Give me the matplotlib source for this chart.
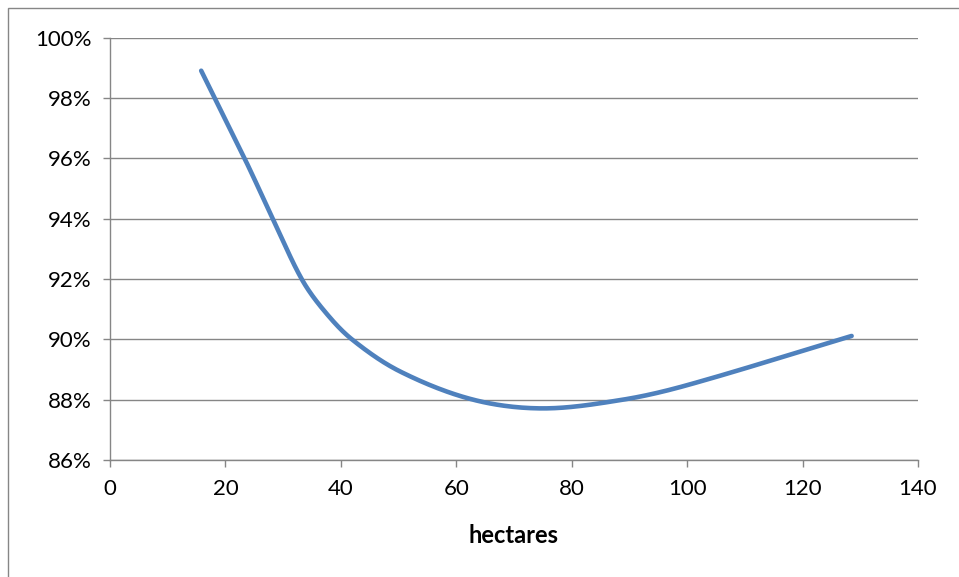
import numpy as np
import matplotlib.pyplot as plt
from matplotlib.ticker import PercentFormatter
from matplotlib.patches import Rectangle

# Values
hectares = [15.8, 23.3, 28.2, 33.2, 37.0, 41.9, 50.3, 62.9, 75.0, 88.9, 100.0, 128.5]
share = [98.9, 96.0, 94.0, 92.0, 90.97, 90.0, 88.93, 88.0, 87.71, 88.0, 88.48, 90.11]

x_ticks = [0, 20, 40, 60, 80, 100, 120, 140]
y_ticks = [86, 88, 90, 92, 94, 96, 98, 100]

LINE = '#4F81BD'
GRID = '#868686'


def smooth(xs, ys, sx=5.77, sy=30.2, n=40):
    # Hermite spline with chord-length tangents (screen scaled), like Excel's smoothed line
    p = np.column_stack([np.asarray(xs) * sx, np.asarray(ys) * sy])
    d = np.r_[0, np.cumsum(np.hypot(*np.diff(p, axis=0).T))]
    m = np.zeros_like(p)
    m[1:-1] = (p[2:] - p[:-2]) / (d[2:] - d[:-2])[:, None]
    m[0] = (p[1] - p[0]) / (d[1] - d[0])
    m[-1] = (p[-1] - p[-2]) / (d[-1] - d[-2])
    out = []
    for i in range(len(p) - 1):
        h = d[i + 1] - d[i]
        t = np.linspace(0, 1, n, endpoint=False)[:, None]
        h00 = 2 * t ** 3 - 3 * t ** 2 + 1
        h10 = t ** 3 - 2 * t ** 2 + t
        h01 = -2 * t ** 3 + 3 * t ** 2
        h11 = t ** 3 - t ** 2
        out.append(h00 * p[i] + h10 * h * m[i] + h01 * p[i + 1] + h11 * h * m[i + 1])
    out.append(p[-1][None, :])
    out = np.vstack(out)
    return out[:, 0] / sx, out[:, 1] / sy


plt.rcParams['font.family'] = ['Lato', 'DejaVu Sans']

fig = plt.figure(figsize=(9.59, 5.77), dpi=100)
W, H = 959, 577
ax = fig.add_axes([110 / W, 1 - 460 / H, 808 / W, (460 - 37.5) / H])

# outer chart frame (only left and top edges visible)
fig.patches.append(Rectangle((8 / W, -0.1), 1.2, 1 - 8 / H + 0.1,
                             transform=fig.transFigure, fill=False,
                             edgecolor=GRID, linewidth=1.0))

lx, ly = smooth(hectares, share)
ax.plot(lx, ly, color=LINE, linewidth=3.3, solid_capstyle='round', zorder=3)

ax.set_xlim(0, 140)
ax.set_ylim(86, 100)
ax.set_xticks(x_ticks)
ax.set_yticks(y_ticks)
ax.yaxis.set_major_formatter(PercentFormatter(decimals=0))
ax.grid(axis='y', color=GRID, linewidth=1.0)
ax.set_axisbelow(True)

for s in ['top', 'right']:
    ax.spines[s].set_visible(False)
for s in ['left', 'bottom']:
    ax.spines[s].set_color(GRID)
    ax.spines[s].set_linewidth(1.0)

ax.tick_params(axis='both', direction='out', length=5, width=1.0,
               color=GRID, labelsize=16, labelcolor='black')
ax.tick_params(axis='x', pad=9)
ax.tick_params(axis='y', pad=8)

ax.set_xlabel('hectares', fontsize=17, fontweight='bold', labelpad=18)

fig.savefig('out.png', dpi=100)
